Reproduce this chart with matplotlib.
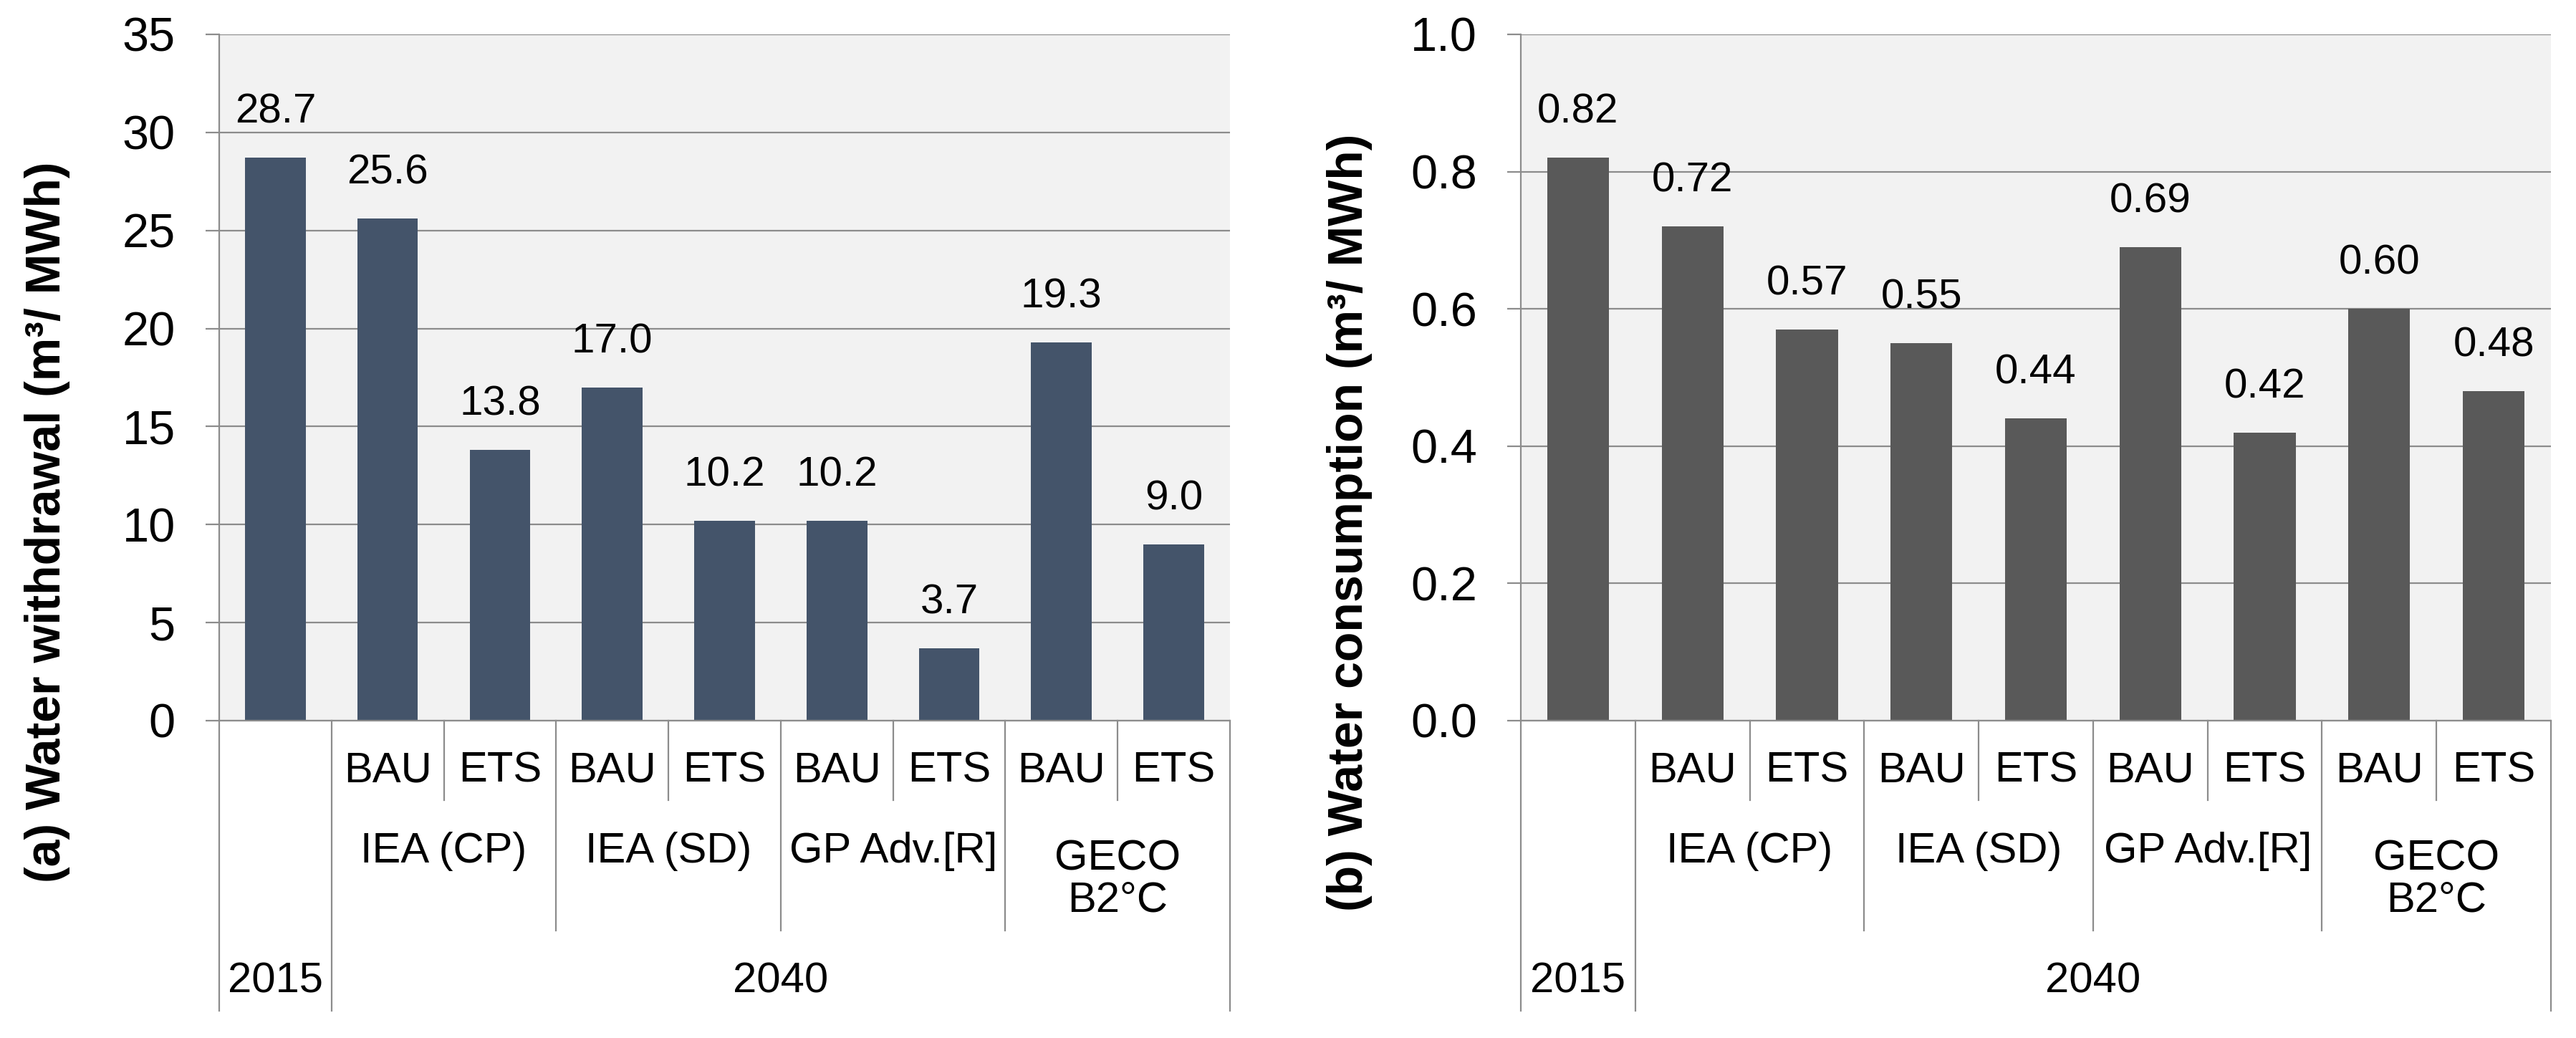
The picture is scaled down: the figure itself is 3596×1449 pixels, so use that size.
import matplotlib
matplotlib.use("Agg")
import matplotlib.pyplot as plt
import numpy as np

plt.rcParams["font.family"] = ["Liberation Sans", "DejaVu Sans"]

# data
scenarios = ["", "BAU", "ETS", "BAU", "ETS", "BAU", "ETS", "BAU", "ETS"]
models = ["IEA (CP)", "IEA (SD)", "GP Adv.[R]", "GECO\nB2°C"]
years = ["2015", "2040"]
withdrawal = [28.7, 25.6, 13.8, 17.0, 10.2, 10.2, 3.7, 19.3, 9.0]
consumption = [0.82, 0.72, 0.57, 0.55, 0.44, 0.69, 0.42, 0.60, 0.48]

GRID = "#8c8c8c"
BG = "#f2f2f2"

# tier depths below the zero line, in axes fraction
T1, T2, T3 = -0.1159, -0.3058, -0.4228


def draw_panel(ax, values, color, ymax, ystep, fmt, ylabel, label_x):
    x = np.arange(len(values))
    ax.set_facecolor(BG)
    ax.bar(x, values, width=0.54, color=color, zorder=2)
    ax.set_xlim(-0.5, len(values) - 0.5)
    ax.set_ylim(0, ymax)
    ax.set_yticks(np.arange(0, ymax + ystep / 2, ystep))
    ax.yaxis.set_major_formatter(plt.FuncFormatter(lambda v, p: fmt.format(v)))
    ax.set_axisbelow(True)
    ax.grid(axis="y", color=GRID, linewidth=1.6)
    ax.set_xticks([])
    ax.tick_params(axis="y", length=14, width=1.6, color=GRID, pad=30,
                   labelsize=48)
    for s in ["top", "right"]:
        ax.spines[s].set_visible(False)
    for s in ["left", "bottom"]:
        ax.spines[s].set_color(GRID)
        ax.spines[s].set_linewidth(1.6)

    for xi, v in zip(x, values):
        ax.annotate(fmt.format(v) if fmt != "{:.0f}" else str(v), (xi, v),
                    xytext=(0, 35), textcoords="offset points",
                    ha="center", va="baseline", fontsize=42)

    tr = ax.get_xaxis_transform()
    # separators between categories
    n = len(values)
    for b in np.arange(-0.5, n, 1.0):
        if b in (-0.5, 0.5, n - 0.5):
            depth = T3
        elif b in (2.5, 4.5, 6.5):
            depth = T2
        else:
            depth = T1
        ax.plot([b, b], [0, depth], transform=tr, color=GRID, lw=1.6,
                clip_on=False)

    for xi, s in zip(x, scenarios):
        if s:
            ax.text(xi, -0.0731, s, transform=tr, ha="center", va="center",
                    fontsize=43)
    for i, m in enumerate(models):
        xc = 1.5 + 2 * i
        yc = -0.2317 if "\n" in m else -0.191
        ax.text(xc, yc, m, transform=tr, ha="center", va="center",
                fontsize=43, linespacing=1.05)
    ax.text(0, -0.380, years[0], transform=tr, ha="center", va="center",
            fontsize=43)
    ax.text(4.5, -0.380, years[1], transform=tr, ha="center", va="center",
            fontsize=43)

    ax.figure.text(label_x, 0.497, ylabel, rotation=90, ha="center",
                   va="center", fontsize=49, fontweight="bold")


fig = plt.figure(figsize=(35.96, 14.49), dpi=100)
ax1 = fig.add_axes([0.08509, 0.30573, 0.39238, 0.66115])
ax2 = fig.add_axes([0.59038, 0.30573, 0.39989, 0.66115])

draw_panel(ax1, withdrawal, "#44546a", 35, 5, "{:.1f}",
           "(a) Water withdrawal (m³/ MWh)", 66 / 3596)
ax1.yaxis.set_major_formatter(plt.FuncFormatter(lambda v, p: f"{v:.0f}"))
draw_panel(ax2, consumption, "#595959", 1.0, 0.2, "{:.2f}",
           "(b) Water consumption (m³/ MWh)", 1884 / 3596)
ax2.yaxis.set_major_formatter(plt.FuncFormatter(lambda v, p: f"{v:.1f}"))

fig.savefig("out.png", dpi=100, facecolor="white")
